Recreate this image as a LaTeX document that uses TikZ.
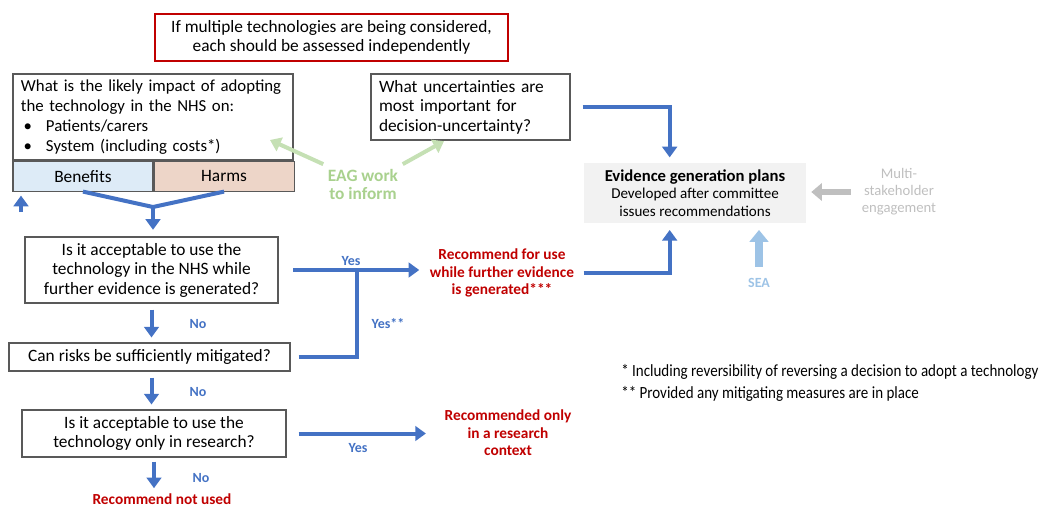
\documentclass[tikz,border=0pt]{standalone}
\usepackage{fontspec}
\setmainfont{Carlito}
\newfontfamily\notefont[FakeStretch=0.88]{Carlito}
\usepackage{xcolor}
\definecolor{flowblue}{HTML}{4472C4}
\definecolor{recred}{HTML}{C00000}
\definecolor{benfill}{HTML}{DDEBF7}
\definecolor{harmfill}{HTML}{EDD5C8}
\definecolor{evgfill}{HTML}{F2F2F2}
\definecolor{eagtext}{HTML}{A9D18E}
\definecolor{eagline}{HTML}{C5E0B4}
\definecolor{mshgray}{HTML}{BFBFBF}
\definecolor{seablue}{HTML}{9DC3E6}
\usetikzlibrary{positioning,calc,arrows.meta}
\newcommand{\bulit}{\hspace*{2pt}\makebox[16.75pt][l]{\textbullet}}

\begin{document}
\begin{tikzpicture}[x=0.75pt,y=-0.75pt,font=\fontsize{13}{14.6}\selectfont,
  qbox/.style={draw=black!65,line width=0.8pt,fill=white,align=center,inner sep=0pt},
  cell/.style={draw=black!65,line width=0.8pt,minimum width=105pt,minimum height=22.5pt,inner sep=0pt,font=\fontsize{13}{15}\selectfont},
  rec/.style={text=recred,font=\fontsize{11.5}{13}\selectfont\bfseries,align=center},
  yn/.style={text=flowblue,font=\fontsize{10.5}{12}\selectfont\bfseries},
  flowln/.style={draw=flowblue,line width=3pt},
  flowar/.style={flowln,-{Triangle[width=11pt,length=8pt]}},
  eagar/.style={draw=eagline,line width=3pt,-{Triangle[width=11pt,length=8pt]}},
  mshar/.style={draw=mshgray,line width=5pt,-{Triangle[width=13pt,length=8pt]}},
  seaar/.style={draw=seablue,line width=6pt,-{Triangle[width=14pt,length=9pt]}}]
  \useasboundingbox (0,0) rectangle (1039,508);
  \node[qbox,draw=recred,line width=1.4pt,minimum width=264.75pt,minimum height=35.25pt] (note) at (331.5,37.5) {If multiple technologies are being considered,\\each should be assessed independently};
  \node[qbox,align=left,text width=198pt,inner xsep=6pt,minimum height=64.5pt,font=\fontsize{12.6}{15}\selectfont] (imp) at (153,117) {What is the likely impact of adopting\\the technology in the NHS on:\\\bulit Patients/carers\\\bulit System (including costs*)};
  \node[cell,fill=benfill,anchor=north west] (ben) at (imp.south west) {Benefits};
  \node[cell,fill=harmfill,anchor=north west] (harm) at (ben.north east) {Harms};
  \node[qbox,align=left,text width=137.25pt,inner xsep=6pt,minimum height=49.5pt] (unc) at (470.5,107) {What uncertainties are\\most important for\\decision-uncertainty?};
  \node[fill=evgfill,minimum width=166.5pt,minimum height=45pt,align=center,inner sep=0pt,font=\fontsize{11.3}{13}\selectfont] (evg) at (695,193) {{\bfseries\fontsize{12.5}{13}\selectfont Evidence generation plans}\\Developed after committee\\issues recommendations};
  \node[text=mshgray,align=center,font=\fontsize{11}{12.75}\selectfont] (msh) at (899,192) {Multi-\\stakeholder\\engagement};
  \node[text=seablue,font=\fontsize{10.5}{12}\selectfont\bfseries] (sea) at (759,283) {SEA};
  \node[text=eagtext,align=center,font=\fontsize{13}{13.5}\selectfont\bfseries] (eag) at (363,184) {EAG work\\to inform};
  \node[qbox,minimum width=189.75pt,minimum height=49.5pt] (q1) at (151.5,270) {Is it acceptable to use the\\technology in the NHS while\\further evidence is generated?};
  \node[qbox,minimum width=210.75pt,minimum height=21pt] (q2) at (149.5,357) {Can risks be sufficiently mitigated?};
  \node[qbox,minimum width=198pt,minimum height=35.25pt] (q3) at (154,433.5) {Is it acceptable to use the\\technology only in research?};
  \node[rec] (rec1) at (502,273) {Recommend for use\\while further evidence\\is generated***};
  \node[rec] (rec2) at (508,433) {Recommended only\\in a research\\context};
  \node[rec] (rnu) at (162,499) {Recommend not used};
  \node[yn] (no1) at (198,324) {No};
  \node[yn] (no2) at (198,392) {No};
  \node[yn] (no3) at (201,478) {No};
  \node[yn] (yes1) at (351,261) {Yes};
  \node[yn] (yes2) at (388,324) {Yes**};
  \node[yn] (yes3) at (358,448) {Yes};
  \node[anchor=west,inner sep=0pt,font=\notefont\fontsize{12.8}{14}\selectfont] (fn1) at (621,372) {* Including reversibility of reversing a decision to adopt a technology};
  \node[anchor=west,inner sep=0pt,font=\notefont\fontsize{12.8}{14}\selectfont] (fn2) at (621,394) {** Provided any mitigating measures are in place};
  \coordinate (split) at (153,207);
  \coordinate (stub) at (21,212);
  \coordinate (yesj) at (357,270);
  \coordinate (eagtip) at (270,140);
  \draw[flowln] (ben.south) -- (split) -- (harm.south);
  \draw[flowar,shorten >=5pt] (split) -- (split |- q1.north);
  \draw[flowar,shorten >=3pt] (stub) -- (stub |- ben.south);
  \draw[flowar,shorten <=4.5pt,shorten >=3.75pt] (q1.south) -- (q1.south |- q2.north);
  \draw[flowar,shorten <=4.5pt,shorten >=3.75pt] (q2.south -| q1.south) -- (q1.south |- q3.north);
  \draw[flowar,shorten <=3pt,shorten >=0.5pt] (q3.south) -- (q3.south |- rnu.north);
  \draw[flowar,shorten <=11pt,shorten >=4.5pt] (q1.east) -- (q1.east -| rec1.west);
  \draw[flowln,shorten <=6pt] (q2.east) -| (yesj);
  \draw[flowar,shorten <=9pt,shorten >=10.5pt] (q3.east) -- (q3.east -| rec2.west);
  \draw[flowar,shorten <=3.75pt,shorten >=5pt] (rec1.east) -| ([xshift=-19pt]evg.south);
  \draw[flowar,shorten <=9pt,shorten >=4pt] (unc.east) -| ([xshift=-19pt]evg.north);
  \draw[eagar] (eag.north west) -- (eagtip);
  \draw[eagar,shorten >=1pt] (eag.north east) -- ([xshift=-19pt]unc.south);
  \draw[mshar,shorten <=5pt,shorten >=3.75pt] (msh.west) -- (msh.west -| evg.east);
  \draw[seaar,shorten <=5pt,shorten >=5pt] (sea.north) -- (sea.north |- evg.south);
\end{tikzpicture}
\end{document}
